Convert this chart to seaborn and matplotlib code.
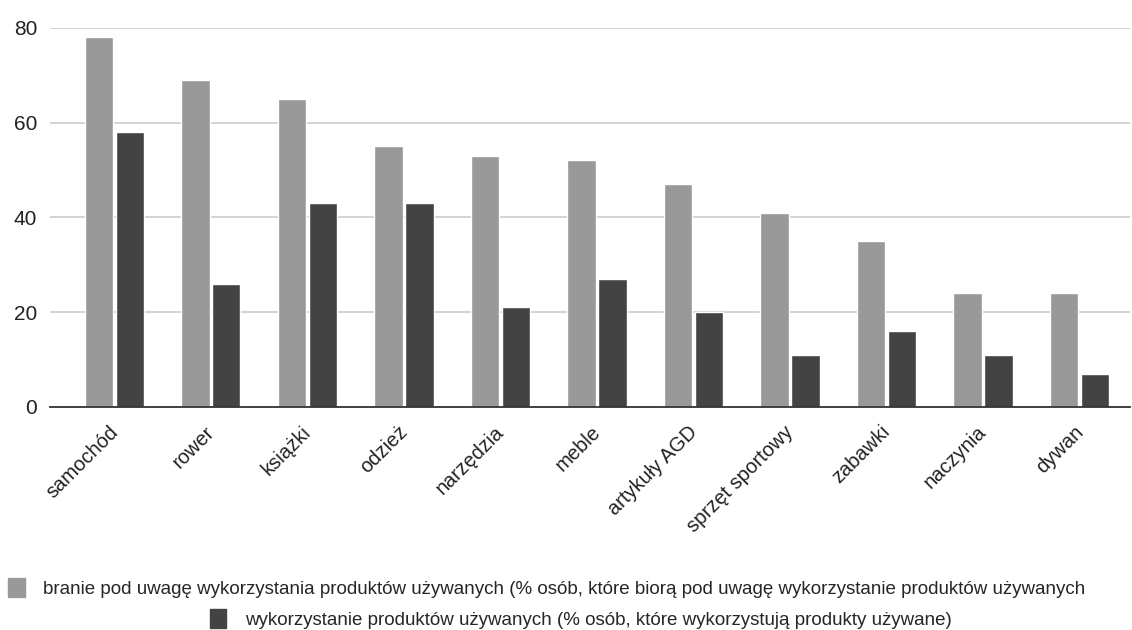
import matplotlib
matplotlib.use("Agg")
import matplotlib.pyplot as plt
import matplotlib.transforms as mtransforms
import pandas as pd
import seaborn as sns
from matplotlib.patches import Patch

# categories and both series
categories = ["samochód", "rower", "książki", "odzież", "narzędzia", "meble",
              "artykuły AGD", "sprzęt sportowy", "zabawki", "naczynia", "dywan"]
considering = [78, 69, 65, 55, 53, 52, 47, 41, 35, 24, 24]
using = [58, 26, 43, 43, 21, 27, 20, 11, 16, 11, 7]

series_names = [
    "branie pod uwagę wykorzystania produktów używanych (% osób, które biorą pod uwagę wykorzystanie produktów używanych",
    "wykorzystanie produktów używanych (% osób, które wykorzystują produkty używane)",
]
colors = ["#999999", "#434343"]
y_ticks = [0, 20, 40, 60, 80]

df = pd.DataFrame({
    "kategoria": categories * 2,
    "wartosc": considering + using,
    "seria": [series_names[0]] * len(categories) + [series_names[1]] * len(categories),
})

sns.set_style("white")
plt.rcParams["font.family"] = ["Liberation Sans", "DejaVu Sans"]

fig = plt.figure(figsize=(11.32, 6.3), dpi=100)
ax = fig.add_axes([0.044, 0.354, 0.954, 0.602])

sns.barplot(data=df, x="kategoria", y="wartosc", hue="seria",
            palette=colors, width=0.64, gap=0.08, ax=ax, legend=False,
            saturation=1)

ax.set_ylim(0, 80)
ax.set_xlim(-0.668, len(categories) - 0.48)
ax.set_yticks(y_ticks)
ax.yaxis.grid(True, color="#cccccc", linewidth=1.2)
ax.set_axisbelow(True)
ax.set_xlabel("")
ax.set_ylabel("")
for side in ["top", "right", "left"]:
    ax.spines[side].set_visible(False)
ax.spines["bottom"].set_color("#333333")
ax.spines["bottom"].set_linewidth(1.3)
ax.spines["bottom"].set_zorder(5)
ax.tick_params(axis="y", length=0, labelsize=15, pad=9, labelcolor="#222222")
ax.tick_params(axis="x", length=0, labelsize=14.5, pad=11, labelcolor="#222222")
shift = mtransforms.ScaledTranslation(-6 / 100, 0, fig.dpi_scale_trans)
for lbl in ax.get_xticklabels():
    lbl.set_rotation(45)
    lbl.set_ha("right")
    lbl.set_rotation_mode("anchor")
    lbl.set_transform(lbl.get_transform() + shift)

# two centred legend rows, like the reference
legend_x = [0.483, 0.513]
for i, (name, col) in enumerate(zip(series_names, colors)):
    fig.legend(handles=[Patch(facecolor=col, edgecolor=col, label=name)],
               loc="center", bbox_to_anchor=(legend_x[i], 1 - (588 + 31 * i) / 630),
               frameon=False, fontsize=13.5, handlelength=0.9, handleheight=1.2,
               handletextpad=1.0)

plt.savefig("out.png", dpi=100)
